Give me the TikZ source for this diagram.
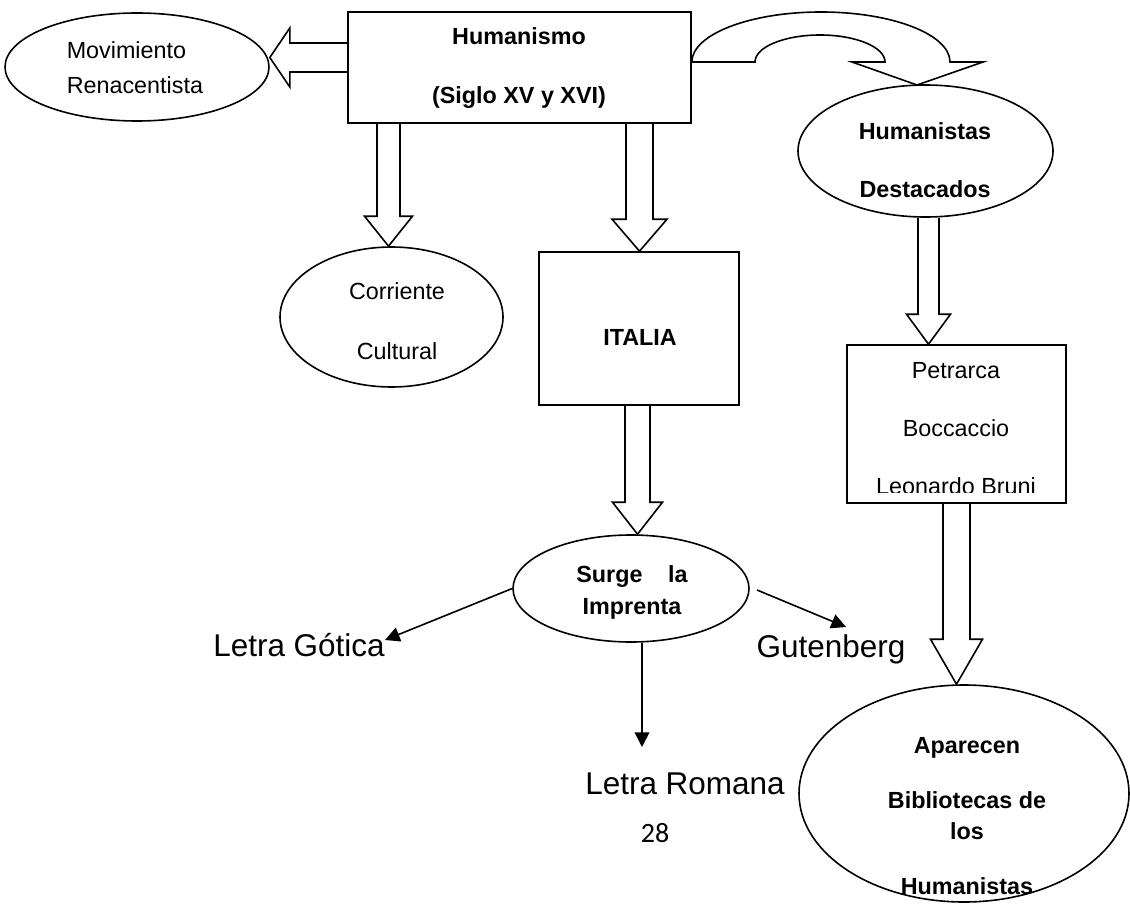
\documentclass[tikz,border=0pt]{standalone}
\usepackage{fontspec}
\setmainfont{Liberation Sans}
\newfontfamily\calibfont{Carlito}
\usetikzlibrary{arrows.meta,calc,shapes.geometric}
\def\px{0.75pt}
\newcommand\fsz[1]{\fontsize{17.5}{#1}\selectfont}
% vertical block arrow: #1 source point, #2 tip point, #3 shaft half width, #4 head half width, #5 head length
\newcommand\dblk[5]{%
  \draw[blockarrow] ($(#1)+(-#3,0)$) -- ($(#2)+(-#3,-#5)$) -- ($(#2)+(-#4,-#5)$) -- (#2)
    -- ($(#2)+(#4,-#5)$) -- ($(#2)+(#3,-#5)$) -- ($(#1)+(#3,0)$);}
% leftward block arrow
\newcommand\lblk[5]{%
  \draw[blockarrow] ($(#1)+(0,-#3)$) -- ($(#2)+(#5,-#3)$) -- ($(#2)+(#5,-#4)$) -- (#2)
    -- ($(#2)+(#5,#4)$) -- ($(#2)+(#5,#3)$) -- ($(#1)+(0,#3)$);}
\begin{document}
\begin{tikzpicture}[x=0.75pt,y=-0.75pt,line width=1.2pt,line join=miter,
  shapebox/.style={draw,rectangle,inner sep=0},
  shapeell/.style={draw,ellipse,inner sep=0},
  lbl/.style={inner sep=0,align=center},
  blockarrow/.style={draw},
  thinarr/.style={-{Triangle[length=11pt,width=11pt]}},
]
\useasboundingbox (0,0) rectangle (1130,920);

% ---- shapes ----
\node[shapeell,minimum width=264*\px,minimum height=108*\px] (mov) at (137,67) {};
\node[shapebox,minimum width=343*\px,minimum height=111*\px] (hum) at (519.5,67.5) {};
\node[shapeell,minimum width=255*\px,minimum height=132*\px] (hd) at (925.5,151) {};
\node[shapeell,minimum width=223*\px,minimum height=140*\px] (cor) at (391.5,317) {};
\node[shapebox,minimum width=200*\px,minimum height=153*\px] (ita) at (639,328.5) {};
\node[shapebox,minimum width=219*\px,minimum height=158*\px] (pet) at (956.5,424) {};
\node[shapeell,minimum width=236*\px,minimum height=107*\px] (sur) at (631,588.5) {};
\node[shapeell,minimum width=330*\px,minimum height=217*\px] (apa) at (964,793.5) {};

% ---- texts ----
\node[lbl,align=left,anchor=west,font=\fsz{26.25pt}] (movt) at (66,67.5) {Movimiento\\Renacentista};
\node[lbl,font=\fsz{44.25pt}\bfseries] (humt) at (519,68) {Humanismo\\(Siglo XV y XVI)};
\node[lbl,font=\fsz{43.5pt}\bfseries] (hdt) at (925,160) {Humanistas\\Destacados};
\node[lbl,font=\fsz{45pt}] (cort) at (397,321) {Corriente\\Cultural};
\node[lbl,font=\fsz{21pt}\bfseries] (itat) at (640,337) {ITALIA};
\node[lbl,font=\fsz{24pt}\bfseries] (surt) at (632,592) {Surge\hspace{1.1em}la\\Imprenta};
\begin{scope}
  \clip (847,345) rectangle (1066,492);
  \node[lbl,font=\fsz{43.5pt}] (pett) at (956,429) {Petrarca\\Boccaccio\\Leonardo Bruni};
\end{scope}
\node[lbl,font=\fsz{23.25pt}\bfseries] (apat) at (967,816.5) {Aparecen\\[18pt]Bibliotecas de\\los\\[18pt]Humanistas};
\node[lbl,font=\fontsize{23.6}{28}\selectfont] (got) at (299,645.5) {Letra Gótica};
\node[lbl,font=\fontsize{23.6}{28}\selectfont] (gut) at (831,649) {Gutenberg};
\node[lbl,font=\fontsize{23.6}{28}\selectfont] (rom) at (685,783.5) {Letra Romana};
\node[lbl,font=\calibfont\fontsize{21}{25}\selectfont] (num) at (655,833) {28};

% ---- column / helper coordinates ----
\coordinate (xcor) at (388.5,0);
\coordinate (xita) at (639.5,0);
\coordinate (xsur) at (637.5,0);
\coordinate (xhd) at (928.5,0);
\coordinate (xpet) at (956.5,0);
\coordinate (ymov) at (0,57.5);
\coordinate (ycv) at (0,62);
\coordinate (hdtip) at (917,85);
\coordinate (gotTip) at (385,640);
\coordinate (gutS) at (757,590);
\coordinate (gutTip) at (846,627);
\coordinate (romTip) at (642,747);

% ---- block arrows ----
\lblk{hum.west |- ymov}{mov.east |- ymov}{14.5}{29.5}{20}
\dblk{hum.south -| xcor}{cor.north -| xcor}{11.5}{24}{30}
\dblk{hum.south -| xita}{ita.north -| xita}{13.5}{27.5}{32}
\dblk{ita.south -| xsur}{sur.north -| xsur}{12.5}{25}{32}
\dblk{hd.south -| xhd}{pet.north -| xhd}{10.5}{22}{30}
\dblk{pet.south -| xpet}{apa.north -| xpet}{13.5}{26}{45}

% curved block arrow Humanismo -> Humanistas Destacados
\draw[blockarrow] (hum.east |- ycv)
  .. controls (692,34.4) and (749.8,12) .. (821,12)
  .. controls (892.2,12) and (950,34.4) .. (950,62)
  -- (983,62) -- (hdtip) -- (852,62) -- (885,62)
  .. controls (885,47.1) and (855.9,35) .. (820,35)
  .. controls (784.1,35) and (755,47.1) .. (755,62) -- cycle;

% ---- thin arrows ----
\draw[thinarr] (sur.west) -- (gotTip);
\draw[thinarr] (gutS) -- (gutTip);
\draw[thinarr] (sur.south -| romTip) -- (romTip);
\end{tikzpicture}
\end{document}
